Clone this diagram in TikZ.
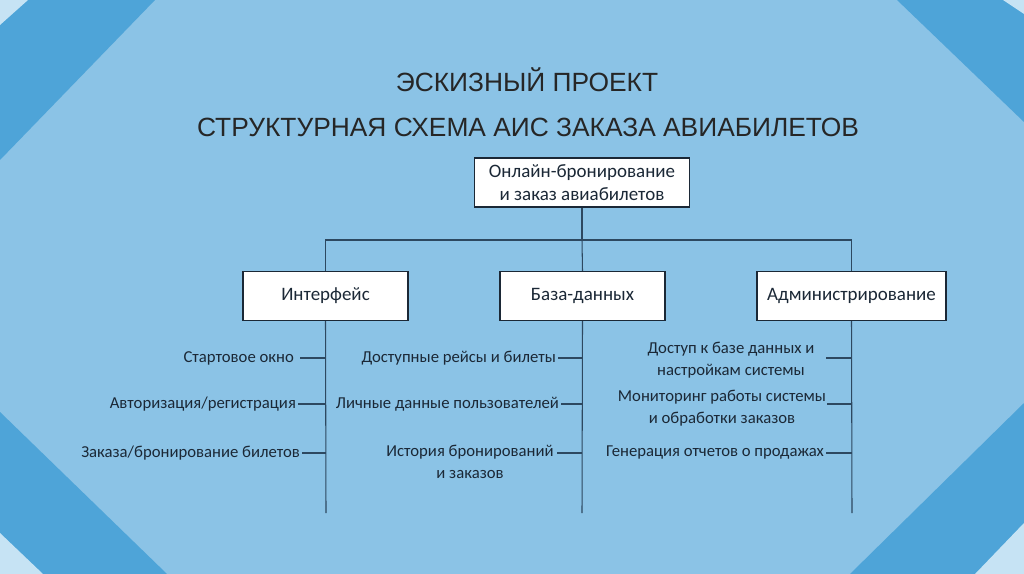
\documentclass[tikz,border=0pt]{standalone}
\usepackage{fontspec}
\setmainfont{Carlito}
\newfontfamily\titlefont{Liberation Sans}
\usetikzlibrary{positioning}
\definecolor{bgblue}{HTML}{8BC3E6}
\definecolor{band}{HTML}{4EA4D8}
\definecolor{pale}{HTML}{C6E3F4}
\definecolor{ink}{HTML}{1B2836}
\definecolor{wire}{HTML}{2D4860}

\tikzset{
  unit/.style={draw=ink, fill=white, line width=0.7pt, minimum height=0.98cm,
    font=\fontsize{10.8}{13}\selectfont, text=ink, align=center},
  item/.style={font=\fontsize{9.5}{12.5}\selectfont, text=ink, inner sep=1pt},
  link/.style={wire, line width=0.6pt}
}

\begin{document}
\begin{tikzpicture}[x=0.02cm, y=-0.02cm]
% ---- background and corner bands ----
\fill[bgblue] (0,0) rectangle (1024,574);
\fill[band] (0,0) -- (155,0) -- (0,160) -- cycle;
\fill[pale] (0,0) -- (28,0) -- (0,25) -- cycle;
\fill[band] (897,0) -- (1024,0) -- (1024,122) -- cycle;
\fill[pale] (1003,0) -- (1024,0) -- (1024,14) -- cycle;
\fill[band] (0,412) -- (167,574) -- (0,574) -- cycle;
\fill[pale] (0,533) -- (43,574) -- (0,574) -- cycle;
\fill[band] (1024,403) -- (1024,574) -- (850,574) -- cycle;
\fill[pale] (1024,523) -- (1024,574) -- (975,574) -- cycle;

% ---- title ----
\node[font=\titlefont\fontsize{15}{18}\selectfont, text=black!85] (t1) at (527,80) {ЭСКИЗНЫЙ ПРОЕКТ};
\node[font=\titlefont\fontsize{15}{18}\selectfont, text=black!85] (t2) at (528,127) {СТРУКТУРНАЯ СХЕМА АИС ЗАКАЗА АВИАБИЛЕТОВ};

% ---- boxes ----
\node[unit, minimum width=4.3cm] (root) at (582,182.5) {Онлайн-бронирование\\и заказ авиабилетов};
\node[unit, minimum width=3.3cm] (iface) at (325.5,296) {Интерфейс};
\node[unit, minimum width=3.3cm] (db) at (582.5,296) {База-данных};
\node[unit, minimum width=3.78cm] (admin) at (851.5,296) {Администрирование};

\coordinate (bus) at (582,240);
\draw[link] (root.south) -- (bus);
\draw[link] (iface.north) |- (bus) -| (admin.north);
\draw[link] (bus) -- (db.north);

% ---- branch lines ----
\coordinate (iend) at (326,513);
\coordinate (dend) at (582,513);
\coordinate (aend) at (852,513);
\draw[link] (iface.south) -- (iend);
\draw[link] (db.south) -- (dend);
\draw[link] (admin.south) -- (aend);

% ---- items: interface ----
\node[item, anchor=east] (i1) at (296,358) {Стартовое окно};
\node[item, anchor=east] (i2) at (298,404) {Авторизация/регистрация};
\node[item, anchor=east] (i3) at (302,453) {Заказа/бронирование билетов};
\coordinate (i1t) at (300,358);
\draw[link] (i1t) -- (i1t -| iend);
\draw[link] (i2.east) -- (i2.east -| iend);
\draw[link] (i3.east) -- (i3.east -| iend);

% ---- items: database ----
\node[item, anchor=east] (d1) at (558,358) {Доступные рейсы и билеты};
\node[item, anchor=east] (d2) at (561,404) {Личные данные пользователей};
\node[item, anchor=north, align=center] (d3) at (470,443) {История бронирований\\и заказов};
\coordinate (d3t) at (557,453);
\draw[link] (d1.east) -- (d1.east -| dend);
\draw[link] (d2.east) -- (d2.east -| dend);
\draw[link] (d3t) -- (d3t -| dend);

% ---- items: admin ----
\node[item, anchor=north, align=center] (a1) at (731,340) {Доступ к базе данных и\\настройкам системы};
\node[item, anchor=north, align=center] (a2) at (722,388) {Мониторинг работы системы\\и обработки заказов};
\node[item, anchor=east] (a3) at (826,453) {Генерация отчетов о продажах};
\coordinate (a1t) at (826,358);
\coordinate (a2t) at (827,404);
\draw[link] (a1t) -- (a1t -| aend);
\draw[link] (a2t) -- (a2t -| aend);
\draw[link] (a3.east) -- (a3.east -| aend);
\end{tikzpicture}
\end{document}
